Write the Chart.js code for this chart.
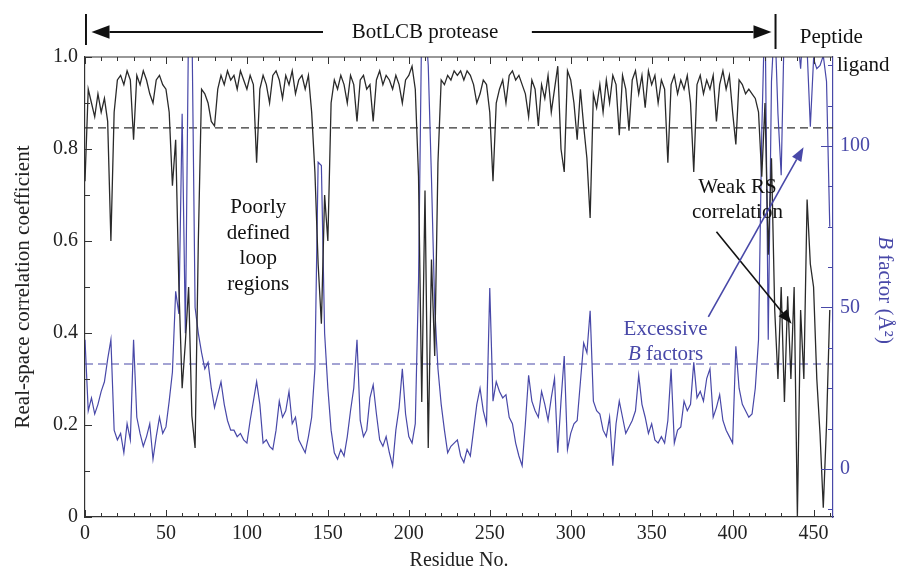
<!DOCTYPE html>
<html><head><meta charset="utf-8">
<script src="https://cdn.jsdelivr.net/npm/chart.js@4.4.0/dist/chart.umd.min.js"></script>
<style>html,body{margin:0;padding:0;background:#fff;}canvas{display:block;}</style>
</head><body>
<canvas id="c" width="905" height="573"></canvas>
<script>
// ---- DATA ----
const residues = [
0,2,4,6,8,10,12,14,16,18,20,22,24,26,28,30,32,34,36,38,
40,42,44,46,48,50,52,54,56,58,60,62,64,66,68,70,72,74,76,78,
80,82,84,86,88,90,92,94,96,98,100,102,104,106,108,110,112,114,116,118,
120,122,124,126,128,130,132,134,136,138,140,142,144,146,148,150,152,154,156,158,
160,162,164,166,168,170,172,174,176,178,180,182,184,186,188,190,192,194,196,198,
200,202,204,206,208,210,212,214,216,218,220,222,224,226,228,230,232,234,236,238,
240,242,244,246,248,250,252,254,256,258,260,262,264,266,268,270,272,274,276,278,
280,282,284,286,288,290,292,294,296,298,300,302,304,306,308,310,312,314,316,318,
320,322,324,326,328,330,332,334,336,338,340,342,344,346,348,350,352,354,356,358,
360,362,364,366,368,370,372,374,376,378,380,382,384,386,388,390,392,394,396,398,
400,402,404,406,408,410,412,414,416,418,420,422,424,426,428,430,432,434,436,438,
440,442,444,446,448,450,452,454,456,458,460];

// real-space correlation coefficient (left axis)
const rscc = [
0.73,0.93,0.90,0.87,0.92,0.88,0.91,0.86,0.60,0.88,
0.95,0.96,0.94,0.97,0.95,0.82,0.96,0.94,0.97,0.95,
0.92,0.90,0.95,0.96,0.94,0.93,0.88,0.72,0.82,0.50,
0.28,0.38,0.50,0.22,0.15,0.60,0.93,0.92,0.90,0.86,
0.85,0.93,0.96,0.94,0.97,0.95,0.96,0.93,0.97,0.95,
0.93,0.96,0.94,0.77,0.93,0.96,0.94,0.90,0.96,0.97,
0.95,0.91,0.96,0.94,0.97,0.92,0.95,0.96,0.93,0.96,
0.88,0.75,0.55,0.42,0.70,0.60,0.90,0.95,0.93,0.96,
0.94,0.90,0.96,0.94,0.86,0.95,0.96,0.93,0.94,0.86,
0.95,0.97,0.94,0.96,0.95,0.93,0.96,0.94,0.90,0.95,
0.96,0.98,0.93,0.74,0.25,0.71,0.15,0.56,0.35,0.77,
0.95,0.94,0.96,0.95,0.97,0.96,0.97,0.95,0.97,0.96,
0.94,0.90,0.92,0.95,0.94,0.88,0.73,0.90,0.93,0.95,
0.90,0.96,0.97,0.95,0.96,0.94,0.92,0.87,0.95,0.93,
0.85,0.94,0.91,0.96,0.88,0.93,0.98,0.80,0.75,0.97,
0.95,0.90,0.82,0.93,0.85,0.78,0.65,0.92,0.89,0.94,
0.88,0.95,0.90,0.96,0.94,0.83,0.96,0.93,0.84,0.95,
0.97,0.92,0.96,0.89,0.97,0.94,0.96,0.90,0.95,0.93,
0.77,0.94,0.96,0.92,0.95,0.93,0.96,0.90,0.75,0.94,
0.96,0.92,0.95,0.93,0.96,0.86,0.94,0.97,0.93,0.96,
0.88,0.81,0.95,0.94,0.92,0.93,0.92,0.91,0.88,0.74,
0.90,0.57,0.78,0.45,0.30,0.50,0.25,0.48,0.30,0.50,
0.00,0.45,0.30,0.69,0.55,0.50,0.30,0.18,0.02,0.20,
0.45];

// B factor, Å² (right axis)
const bFactor = [
40,18,22,17,20,24,27,34,40,12,
9,11,5,14,9,40,16,11,7,10,
14,3,10,16,11,13,21,30,55,48,
110,42,140,140,50,42,36,31,33,25,
19,23,27,20,15,12,12,10,11,9,
8,15,21,27,20,8,9,7,6,12,
21,16,18,24,14,16,9,7,5,10,
16,31,95,94,42,25,12,5,3,6,
4,10,18,25,40,15,10,12,22,26,
17,9,7,10,5,1,12,19,31,17,
10,8,14,58,140,140,125,90,50,31,
20,12,5,7,8,9,4,2,6,4,
12,20,25,18,14,56,21,27,24,22,
23,16,14,8,4,1,14,29,21,18,
16,24,20,15,22,28,5,21,35,6,
11,14,15,27,39,36,49,21,18,17,
12,10,16,1,14,21,16,11,13,15,
18,29,20,16,11,14,9,8,10,8,
15,31,8,12,13,21,18,20,33,22,
24,21,28,31,16,19,23,15,12,10,
8,38,25,20,18,16,17,25,40,104,
145,40,120,140,110,91,140,145,128,145,
135,124,140,130,106,127,124,125,128,120,
75];

const rsccThreshold = 0.846;
const bThreshold = 32.5;

const xTicks = [0,50,100,150,200,250,300,350,400,450];
const yTicks = [0,0.2,0.4,0.6,0.8,1.0];
const yTickLabels = ['0','0.2','0.4','0.6','0.8','1.0'];
const y2Ticks = [0,50,100];
const y2TickLabels = ['0','50','100'];

// ---- STYLE ----
const FONT = "'Liberation Serif','Times New Roman',serif";
const BLACK = '#2a2a2a';
const BLUE = '#4848a8';

function pts(xs, ys){ return xs.map((r,i)=>({x:r, y:ys[i]})); }

const annotations = {
  id: 'annotations',
  afterDraw(chart){
    const {ctx, chartArea:a, scales:{x,y,y2}} = chart;
    ctx.save();
    ctx.font = '21px ' + FONT;
    ctx.textBaseline = 'middle';

    function arrow(x1,y1,x2,y2c,color,head,w){
      ctx.strokeStyle = color; ctx.fillStyle = color; ctx.lineWidth = w;
      const ang = Math.atan2(y2c-y1, x2-x1);
      const bx = x2 - head*Math.cos(ang), by = y2c - head*Math.sin(ang);
      ctx.beginPath(); ctx.moveTo(x1,y1); ctx.lineTo(bx,by); ctx.stroke();
      ctx.beginPath();
      ctx.moveTo(x2,y2c);
      ctx.lineTo(bx + head*0.38*Math.sin(ang), by - head*0.38*Math.cos(ang));
      ctx.lineTo(bx - head*0.38*Math.sin(ang), by + head*0.38*Math.cos(ang));
      ctx.closePath(); ctx.fill();
    }

    // top bracket: BotLCB protease
    const ty = a.top - 25;
    ctx.strokeStyle = '#111'; ctx.lineWidth = 2;
    const lb = x.getPixelForValue(0.6), rb = x.getPixelForValue(426.5);
    ctx.beginPath(); ctx.moveTo(lb, a.top-43); ctx.lineTo(lb, a.top-12); ctx.stroke();
    ctx.beginPath(); ctx.moveTo(rb, a.top-43); ctx.lineTo(rb, a.top-8); ctx.stroke();
    arrow(x.getPixelForValue(147), ty, x.getPixelForValue(4), ty, '#111', 18, 1.8);
    arrow(x.getPixelForValue(276), ty, x.getPixelForValue(424), ty, '#111', 18, 1.8);
    ctx.fillStyle = '#111'; ctx.textAlign = 'center';
    ctx.fillText('BotLCB protease', x.getPixelForValue(210), ty);
    ctx.textAlign = 'left';
    ctx.fillText('Peptide', x.getPixelForValue(441.5), a.top - 20);
    ctx.fillText('ligand', a.right + 4, a.top + 8);

    // loop regions text
    ctx.fillStyle = '#111'; ctx.textAlign = 'center';
    const lx = x.getPixelForValue(107), ly = y.getPixelForValue(0.672);
    ['Poorly','defined','loop','regions'].forEach((t,i)=>ctx.fillText(t, lx, ly + i*25.5));

    // weak RS correlation
    const wx = x.getPixelForValue(403);
    ctx.fillText('Weak RS', wx, y.getPixelForValue(0.717));
    ctx.fillText('correlation', wx, y.getPixelForValue(0.663));
    arrow(x.getPixelForValue(390), y.getPixelForValue(0.62), x.getPixelForValue(436.4), y.getPixelForValue(0.42), '#111', 14, 1.6);

    // excessive B factors
    ctx.fillStyle = BLUE;
    const ex = x.getPixelForValue(358.6);
    ctx.fillText('Excessive', ex, y.getPixelForValue(0.407));
    const by0 = y.getPixelForValue(0.354);
    ctx.font = 'italic 21px ' + FONT;
    const wB = ctx.measureText('B').width;
    ctx.font = '21px ' + FONT;
    const wRest = ctx.measureText(' factors').width;
    const sx = ex - (wB + wRest)/2;
    ctx.textAlign = 'left';
    ctx.font = 'italic 21px ' + FONT; ctx.fillText('B', sx, by0);
    ctx.font = '21px ' + FONT; ctx.fillText(' factors', sx + wB, by0);
    arrow(x.getPixelForValue(385), y.getPixelForValue(0.435), x.getPixelForValue(443.8), y.getPixelForValue(0.804), BLUE, 14, 1.6);

    // right axis title
    ctx.save();
    ctx.translate(a.right + 52, (a.top + a.bottom)/2 + 3);
    ctx.rotate(Math.PI/2);
    ctx.fillStyle = BLUE;
    ctx.font = 'italic 21px ' + FONT;
    const tB = ctx.measureText('B').width;
    ctx.font = '21px ' + FONT;
    const tR = ctx.measureText(' factor (Å²)').width;
    const st = -(tB + tR)/2;
    ctx.font = 'italic 21px ' + FONT; ctx.fillText('B', st, 0);
    ctx.font = '21px ' + FONT; ctx.fillText(' factor (Å²)', st + tB, 0);
    ctx.restore();

    ctx.restore();
  }
};

const frameTicks = {
  id: 'frameTicks',
  afterDraw(chart){
    const {ctx, chartArea:a, scales:{x,y,y2}} = chart;
    ctx.save();
    ctx.lineWidth = 1.2; ctx.strokeStyle = '#333';
    ctx.beginPath(); ctx.moveTo(a.left, a.top); ctx.lineTo(a.right, a.top); ctx.stroke();
    ctx.lineWidth = 1;
    for (let v = 0; v <= 460; v += 10) {
      const px = Math.round(x.getPixelForValue(v)) + 0.5;
      const len = v % 50 === 0 ? 7 : 4;
      ctx.beginPath();
      ctx.moveTo(px, a.bottom); ctx.lineTo(px, a.bottom - len);
      ctx.moveTo(px, a.top); ctx.lineTo(px, a.top + len);
      ctx.stroke();
    }
    for (let k = 0; k <= 10; k++) {
      const py = Math.round(y.getPixelForValue(k/10)) + 0.5;
      const len = k % 2 === 0 ? 7 : 5;
      ctx.beginPath(); ctx.moveTo(a.left, py); ctx.lineTo(a.left + len, py); ctx.stroke();
    }
    ctx.strokeStyle = BLUE;
    for (let v = -12.5; v <= 125; v += 12.5) {
      const py = Math.round(y2.getPixelForValue(v)) + 0.5;
      const len = v % 50 === 0 ? 12 : 5;
      ctx.beginPath(); ctx.moveTo(a.right, py); ctx.lineTo(a.right - len, py); ctx.stroke();
    }
    ctx.restore();
  }
};

new Chart(document.getElementById('c'), {
  type: 'line',
  data: {
    datasets: [
      { label: 'Real-space correlation coefficient', data: pts(residues, rscc), yAxisID: 'y',
        borderColor: BLACK, borderWidth: 1.3, pointRadius: 0, tension: 0 },
      { label: 'B factor', data: pts(residues, bFactor), yAxisID: 'y2',
        borderColor: BLUE, borderWidth: 1.2, pointRadius: 0, tension: 0 },
      { label: 'RSCC threshold', data: [{x:0,y:rsccThreshold},{x:462,y:rsccThreshold}], yAxisID: 'y',
        borderColor: '#333', borderWidth: 1.1, borderDash: [8,5], pointRadius: 0 },
      { label: 'B threshold', data: [{x:0,y:bThreshold},{x:462,y:bThreshold}], yAxisID: 'y2',
        borderColor: BLUE, borderWidth: 1.1, borderDash: [8,5], pointRadius: 0 }
    ]
  },
  options: {
    responsive: false, animation: false, devicePixelRatio: 1,
    layout: { padding: { top: 57, left: 0, right: 0, bottom: 0 } },
    plugins: { legend: { display: false }, tooltip: { enabled: false } },
    scales: {
      x: {
        type: 'linear', min: 0, max: 462,
        afterBuildTicks: s => { s.ticks = xTicks.map(v => ({value: v})); },
        afterFit: s => { s.height = 56; },
        ticks: { font: { family: FONT, size: 20 }, color: '#222', padding: 5, maxRotation: 0, autoSkip: false,
                 callback: v => String(v) },
        grid: { drawOnChartArea: false, drawTicks: false },
        border: { display: true, color: '#333', width: 1.2 },
        title: { display: true, text: 'Residue No.', font: { family: FONT, size: 20 }, color: '#222', padding: { top: 0, bottom: 0 } }
      },
      y: {
        min: 0, max: 1,
        afterBuildTicks: s => { s.ticks = yTicks.map(v => ({value: v})); },
        afterFit: s => { s.width = 85; },
        ticks: { font: { family: FONT, size: 20 }, color: '#222', padding: 7,
                 callback: (v, i) => yTickLabels[i] },
        grid: { drawOnChartArea: false, drawTicks: false },
        border: { display: true, color: '#333', width: 1.2 },
        title: { display: true, text: 'Real-space correlation coefficient', font: { family: FONT, size: 21 }, color: '#222', padding: { top: 11, bottom: 0 } }
      },
      y2: {
        position: 'right', min: -14.9, max: 127.6,
        afterBuildTicks: s => { s.ticks = y2Ticks.map(v => ({value: v})); },
        afterFit: s => { s.width = 72; },
        ticks: { font: { family: FONT, size: 20 }, color: BLUE, padding: 7,
                 callback: (v, i) => y2TickLabels[i] },
        grid: { drawOnChartArea: false, drawTicks: false },
        border: { display: true, color: BLUE, width: 1.2 }
      }
    }
  },
  plugins: [frameTicks, annotations]
});
</script>
</body></html>
